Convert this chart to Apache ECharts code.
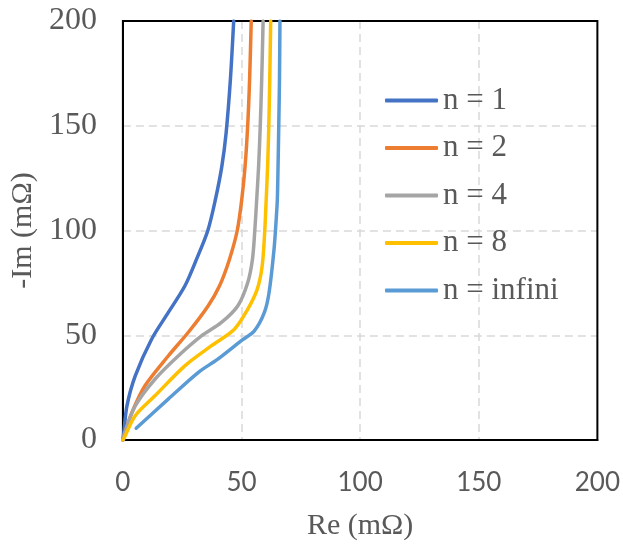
<!DOCTYPE html>
<html>
<head>
<meta charset="utf-8">
<script src="https://cdn.jsdelivr.net/npm/echarts@6/dist/echarts.min.js"></script>
<style>html,body{margin:0;padding:0;background:#fff;}#c{width:623px;height:546px;}</style>
</head>
<body>
<div id="c"></div>
<script>
// Re (mΩ), -Im (mΩ) pairs
const seriesNames = ['n = 1', 'n = 2', 'n = 4', 'n = 8', 'n = infini'];
const reN1 = [0, 0.4, 1.7, 5.2, 12.1, 19.1, 26.1, 31.0, 35.8, 39.0, 41.7, 43.5, 45.3, 46.7];
const imN1 = [0, 3.8, 16.3, 30.6, 48.1, 60.8, 73.5, 86.2, 100, 114.8, 130.6, 146.5, 171.9, 200];
const reN2 = [0, 0.9, 3.8, 9.3, 19.1, 27.5, 35.9, 40.7, 44.9, 48.2, 50.1, 51.5, 52.6, 53.4, 54.1];
const imN2 = [0, 3.8, 13.2, 25.9, 40.1, 51.3, 64.0, 73.5, 86.2, 100, 114.8, 130.6, 150, 171.9, 200];
const reN4 = [0, 0.9, 5.2, 13.5, 23.3, 33.1, 41.4, 48.4, 52.6, 54.6, 55.6, 56.4, 57.2, 57.9, 58.5, 59.1];
const imN4 = [0, 3.8, 16.3, 29.0, 40.1, 49.7, 56.0, 64.0, 75.1, 86.2, 100, 114.8, 130.6, 150, 171.9, 200];
const reN8 = [0, 0.3, 5.2, 13.5, 26.1, 37.2, 47.0, 52.6, 56.6, 58.7, 59.8, 60.4, 61.0, 61.5, 61.9, 62.3];
const imN8 = [0, 0.5, 11.6, 21.1, 35.4, 44.9, 52.9, 62.4, 71.9, 83.0, 100, 114.8, 130.6, 150, 171.9, 200];
const reInf = [5.6, 19.1, 31.7, 40.0, 49.8, 55.4, 59.6, 61.6, 63.7, 64.7, 65.1, 65.4, 65.7, 66.0, 66.2];
const imInf = [5.6, 19.5, 32.2, 38.6, 47.3, 52.1, 60.8, 70.3, 91.0, 106.8, 114.8, 130.6, 150, 171.9, 200];
const xTicks = [0, 50, 100, 150, 200];
const yTicks = [0, 50, 100, 150, 200];

const colors = ['#4472C4', '#ED7D31', '#A5A5A5', '#FFC000', '#5B9BD5'];
const reAll = [reN1, reN2, reN4, reN8, reInf];
const imAll = [imN1, imN2, imN4, imN8, imInf];

const serif = '"Liberation Serif", "Times New Roman", serif';
const chart = echarts.init(document.getElementById('c'));
const split = {show: true, showMinLine: false, showMaxLine: false, lineStyle: {color: '#D9D9D9', width: 1.5, type: [8, 5]}};
chart.setOption({
  animation: false,
  grid: {left: 121, top: 21, width: 479, height: 420, show: true, borderColor: '#000', borderWidth: 2, z: 3},
  legend: {
    orient: 'vertical', left: 380, top: 80,
    icon: 'roundRect',
    itemWidth: 53, itemHeight: 4, itemGap: 16.5,
    textStyle: {fontFamily: serif, fontSize: 31, lineHeight: 31, color: '#595959'},
    data: seriesNames
  },
  xAxis: {
    type: 'value', min: xTicks[0], max: xTicks[xTicks.length - 1], interval: 50,
    name: 'Re (mΩ)', nameLocation: 'middle', nameGap: 71,
    nameTextStyle: {fontFamily: serif, fontSize: 30, color: '#595959'},
    axisLine: {show: true, lineStyle: {color: '#000', width: 2}},
    axisTick: {show: false},
    axisLabel: {fontFamily: 'Lato, "Open Sans", sans-serif', fontSize: 26, color: '#595959', margin: 30},
    splitLine: split
  },
  yAxis: {
    type: 'value', min: yTicks[0], max: yTicks[yTicks.length - 1], interval: 50,
    name: '-Im (mΩ)', nameLocation: 'middle', nameGap: 82,
    nameTextStyle: {fontFamily: serif, fontSize: 30, color: '#595959'},
    axisLine: {show: true, lineStyle: {color: '#000', width: 2}},
    axisTick: {show: false},
    axisLabel: {fontFamily: serif, fontSize: 32, color: '#595959', margin: 26},
    splitLine: split
  },
  series: seriesNames.map((name, i) => ({
    name: name,
    type: 'line',
    symbol: 'none',
    smooth: 0.3,
    color: colors[i],
    lineStyle: {width: 3.5, color: colors[i], cap: 'round'},
    data: reAll[i].map((x, k) => [x, imAll[i][k]])
  }))
});
</script>
</body>
</html>
